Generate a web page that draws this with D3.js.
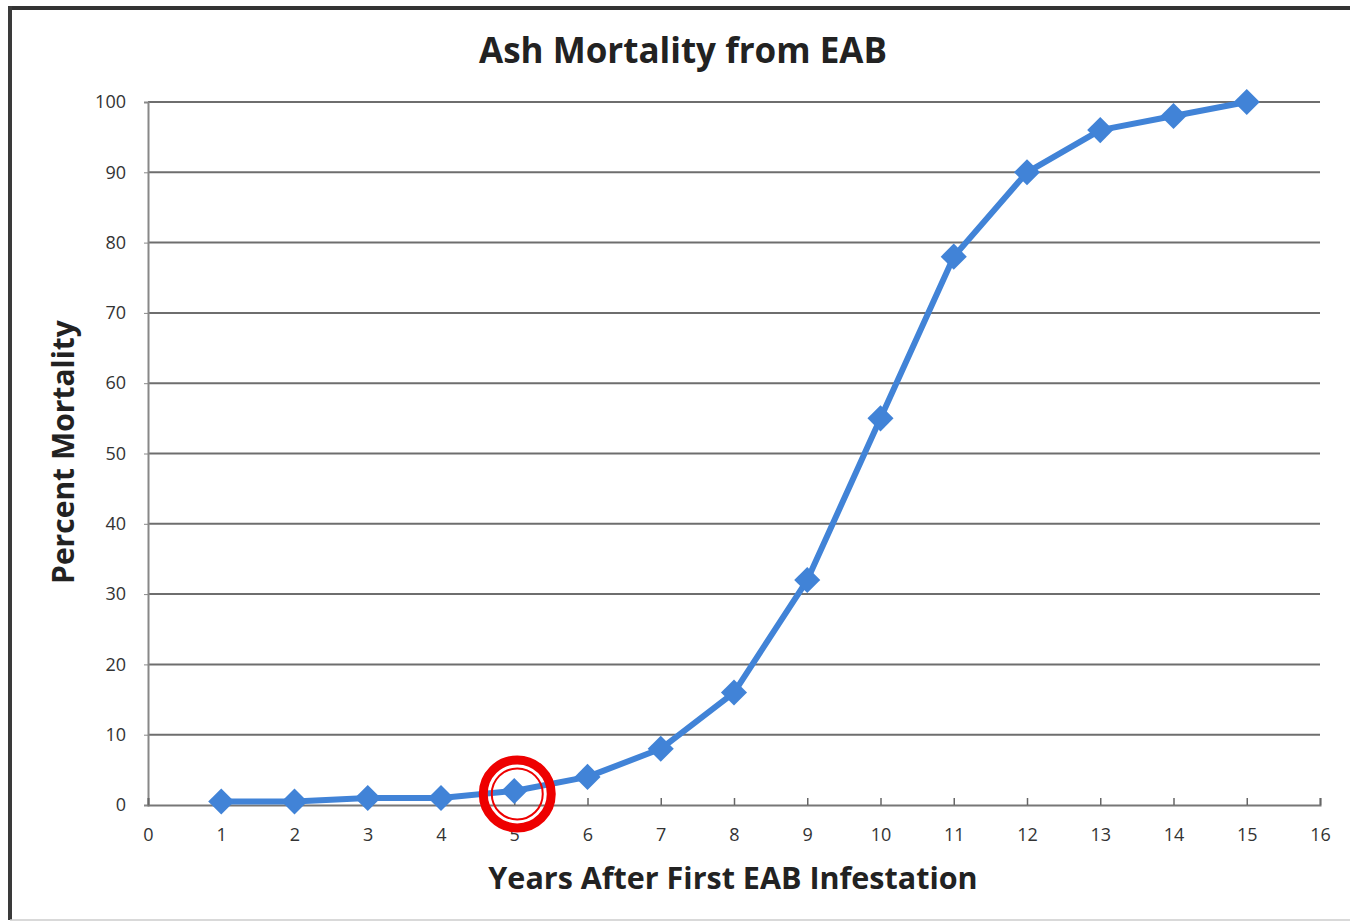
<!DOCTYPE html>
<html>
<head>
<meta charset="utf-8">
<script src="https://cdn.jsdelivr.net/npm/d3@7"></script>
<style>
  body { margin: 0; background: #fff; }
  text { font-family: 'Open Sans', 'Noto Sans', sans-serif; }
</style>
</head>
<body>
<div id="root"></div>
<script>
const width = 1350
const height = 922

// data
const years = [1, 2, 3, 4, 5, 6, 7, 8, 9, 10, 11, 12, 13, 14, 15]
const mortality = [0.5, 0.5, 1, 1, 2, 4, 8, 16, 32, 55, 78, 90, 96, 98, 100]
const xTicks = d3.range(0, 17)
const yTicks = [0, 10, 20, 30, 40, 50, 60, 70, 80, 90, 100]
const highlightYear = 5

const margin = { top: 102, right: 30, bottom: 117, left: 148 }

const svg = d3.select('#root').append('svg').attr('width', width).attr('height', height)

// scanned page frame
svg.append('line').attr('x1', 8).attr('x2', width).attr('y1', 8).attr('y2', 8)
  .attr('stroke', '#333').attr('stroke-width', 4)
svg.append('line').attr('x1', 10).attr('x2', 10).attr('y1', 6).attr('y2', 920)
  .attr('stroke', '#3a3a3a').attr('stroke-width', 4)
svg.append('line').attr('x1', 10).attr('x2', width).attr('y1', 920).attr('y2', 920)
  .attr('stroke', '#ccc').attr('stroke-width', 1.5)

const x = d3.scaleLinear().domain([0, 16]).range([margin.left, width - margin.right])
const y = d3.scaleLinear().domain([0, 100]).range([height - margin.bottom, margin.top])

// gridlines
svg.append('g')
  .selectAll('line')
  .data(yTicks.filter((d) => d > 0))
  .join('line')
  .attr('x1', x(0))
  .attr('x2', x(16))
  .attr('y1', (d) => y(d))
  .attr('y2', (d) => y(d))
  .attr('stroke', '#6e6e6e')
  .attr('stroke-width', 2)

// y axis
const yAxis = svg.append('g')
  .attr('transform', `translate(${x(0)},0)`)
  .call(d3.axisLeft(y).tickValues(yTicks).tickSize(4).tickPadding(18))
yAxis.select('.domain').attr('stroke', '#888').attr('stroke-width', 2)
yAxis.selectAll('.tick line').attr('stroke', '#888')
yAxis.selectAll('text').attr('font-size', 18).attr('fill', '#333')

// x axis, ticks pointing up
const xAxis = svg.append('g')
  .attr('transform', `translate(0,${y(0)})`)
  .call(d3.axisBottom(x).tickValues(xTicks).tickSize(-7).tickPadding(23))
xAxis.select('.domain').attr('stroke', '#777').attr('stroke-width', 2)
xAxis.selectAll('.tick line').attr('stroke', '#666').attr('stroke-width', 1.5)
xAxis.selectAll('text').attr('font-size', 18).attr('fill', '#333')

// series
const points = years.map((yr, i) => ({ year: yr, value: mortality[i] }))

const line = d3.line()
  .x((d) => x(d.year))
  .y((d) => y(d.value))

svg.append('path')
  .datum(points)
  .attr('d', line)
  .attr('fill', 'none')
  .attr('stroke', '#4183d7')
  .attr('stroke-width', 6)
  .attr('stroke-linejoin', 'round')

svg.append('g')
  .selectAll('path')
  .data(points)
  .join('path')
  .attr('transform', (d) => `translate(${x(d.year)},${y(d.value)}) rotate(45)`)
  .attr('d', d3.symbol(d3.symbolSquare, 340))
  .attr('fill', '#4183d7')

// red highlight circle
const hp = points.find((d) => d.year === highlightYear)
const hx = x(hp.year) + 3
const hy = y(hp.value) + 3
svg.append('circle').attr('cx', hx).attr('cy', hy).attr('r', 34)
  .attr('fill', 'none').attr('stroke', '#ee0000').attr('stroke-width', 9)
svg.append('circle').attr('cx', hx).attr('cy', hy).attr('r', 25.5)
  .attr('fill', 'none').attr('stroke', '#ee0000').attr('stroke-width', 2)

// titles
svg.append('text')
  .attr('x', 683)
  .attr('y', 63)
  .attr('text-anchor', 'middle')
  .attr('font-size', 35)
  .attr('font-weight', 'bold')
  .attr('fill', '#222')
  .text('Ash Mortality from EAB')

svg.append('text')
  .attr('x', 733)
  .attr('y', 889)
  .attr('text-anchor', 'middle')
  .attr('font-size', 30.5)
  .attr('font-weight', 'bold')
  .attr('fill', '#222')
  .text('Years After First EAB Infestation')

svg.append('text')
  .attr('transform', 'translate(74,452) rotate(-90)')
  .attr('text-anchor', 'middle')
  .attr('font-size', 30)
  .attr('font-weight', 'bold')
  .attr('fill', '#222')
  .text('Percent Mortality')
</script>
</body>
</html>
